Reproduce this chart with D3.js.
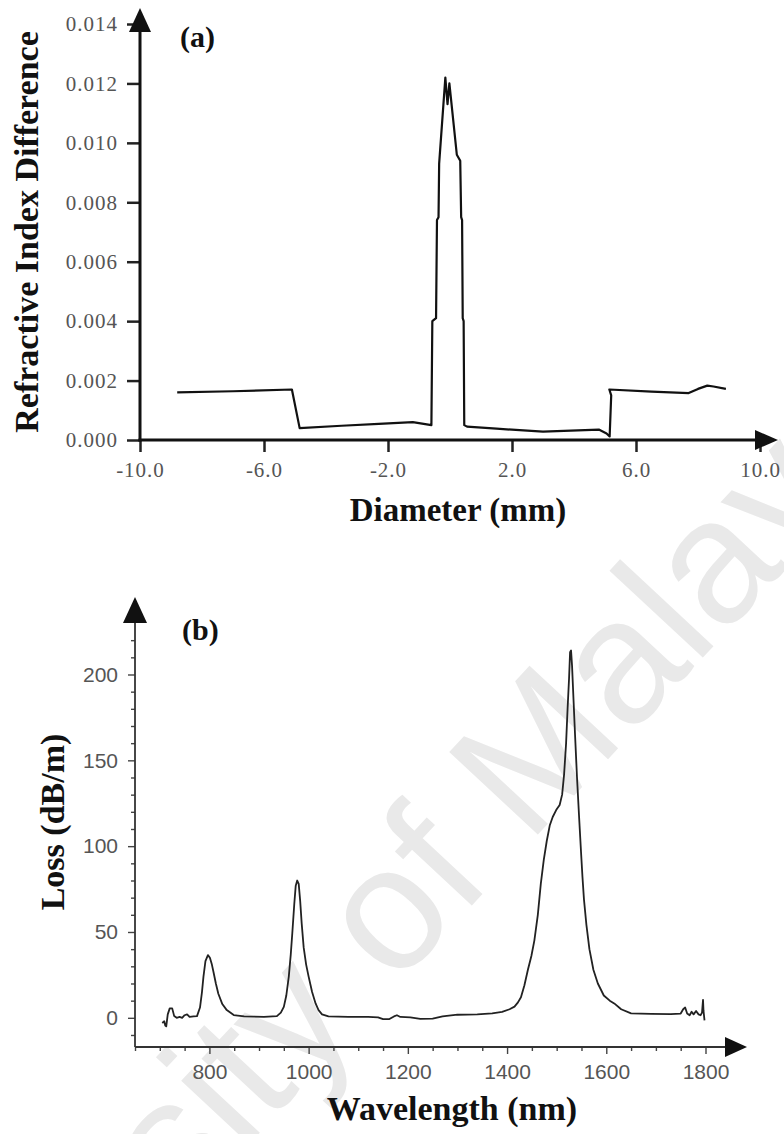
<!DOCTYPE html>
<html>
<head>
<meta charset="utf-8">
<script src="https://cdn.jsdelivr.net/npm/d3@7"></script>
<style>
  body { margin: 0; background: #fff; }
</style>
</head>
<body>
<script>
// panel (a) - refractive index profile
var diameterMm = [-8.8, -7.0, -5.1, -4.85, -3.5, -2.3, -1.2, -0.6, -0.57, -0.45, -0.42, -0.37, -0.35, -0.15, -0.08, -0.02,
  0.22, 0.33, 0.36, 0.39, 0.41, 0.44, 0.46, 0.55, 1.5, 3.0, 4.8, 5.05, 5.15, 5.2, 5.14, 6.5, 7.7, 8.0, 8.3, 8.5, 8.9];
var indexDiff = [0.00160, 0.00164, 0.00170, 0.00040, 0.00048, 0.00054, 0.00060, 0.00050, 0.00400, 0.00410, 0.00740, 0.00750, 0.00930, 0.01220, 0.01130, 0.01200,
  0.00960, 0.00940, 0.00750, 0.00740, 0.00410, 0.00400, 0.00050, 0.00045, 0.00038, 0.00028, 0.00035, 0.00022, 0.00012, 0.00150, 0.00170, 0.00163, 0.00158, 0.00172, 0.00183, 0.00180, 0.00172];
var aXTicks = [-10, -6, -2, 2, 6, 10];
var aYTicks = [0, 0.002, 0.004, 0.006, 0.008, 0.010, 0.012, 0.014];

// panel (b) - loss spectrum
var wavelengthNm = [705, 709, 711, 713, 716, 720, 725, 729, 734, 740, 745, 750, 755, 760, 768, 775, 781, 785, 788, 792, 797, 801, 805, 808, 813, 818, 826, 835, 849, 870,
  910, 936, 944, 950, 955, 960, 964, 967, 971, 974, 977, 980, 983, 986, 990, 995, 1000, 1007, 1014, 1020, 1027, 1040,
  1080, 1120, 1140, 1150, 1162, 1172, 1178, 1185, 1205, 1225, 1250, 1270, 1300, 1340, 1370, 1390,
  1405, 1415, 1422, 1428, 1435, 1442, 1449, 1455, 1462, 1468, 1474, 1480, 1486, 1492, 1499, 1506, 1511, 1515, 1519, 1522, 1525, 1527, 1529,
  1531, 1534, 1537, 1541, 1545, 1549, 1552, 1555, 1560, 1566, 1574, 1583, 1595, 1607, 1616, 1630, 1650, 1690, 1730,
  1750, 1755, 1759, 1763, 1768, 1772, 1776, 1781, 1786, 1790, 1793, 1795, 1796, 1798];
var lossDbm = [-3, -2, -4.5, -5, 2, 5.5, 5.5, 1, 0, 0.5, 0, 1.5, 2, 0.5, 0.8, 1, 6, 15, 24, 33, 36.5, 35, 31, 27, 20, 14, 8, 4.5, 1.6, 0.8,
  0.6, 1, 3, 6.4, 13, 24, 37, 49, 66, 77, 80, 78, 68, 55, 41, 31, 24, 15, 8.4, 4.5, 2, 0.8,
  0.6, 0.5, 0.3, -0.8, -0.8, 0.8, 1.5, 0.5, 0.3, -0.6, -0.5, 0.8, 1.8, 2, 2.6, 3.5,
  5, 6.5, 9, 12, 19, 28, 36, 45, 60, 78, 92, 103, 112, 117, 121, 124, 130, 142, 160, 180, 198, 213, 214,
  205, 185, 165, 140, 118, 97, 82, 69, 54, 40, 28, 20, 13, 10, 8.4, 5, 2.6, 2.3, 2.2,
  2.5, 5, 6, 2.5, 1.5, 3.5, 2, 4, 2, 1.5, 3, 10.5, 4, -1.5];
var bXTicks = [800, 1000, 1200, 1400, 1600, 1800];
var bYTicks = [0, 50, 100, 150, 200];

var w = 784, h = 1134;

var svg = d3.select("body")
  .append("svg")
  .attr("width", w)
  .attr("height", h);

// faint watermark behind everything
svg.append("text")
  .attr("transform", "translate(330,968) rotate(-47)")
  .attr("text-anchor", "middle")
  .attr("dominant-baseline", "central")
  .style("font-family", "'Liberation Sans', Arial, sans-serif")
  .style("font-size", "176px")
  .attr("fill", "#e9e9e9")
  .text("University of Malaya");

function arrowUp(g, x, tip, base, half, color) {
  g.append("path")
    .attr("d", "M" + x + "," + tip + "L" + (x - half) + "," + base + "L" + (x + half) + "," + base + "Z")
    .attr("fill", color);
}
function arrowRight(g, y, tip, base, half, color) {
  g.append("path")
    .attr("d", "M" + tip + "," + y + "L" + base + "," + (y - half) + "L" + base + "," + (y + half) + "Z")
    .attr("fill", color);
}

// ---------- panel (a) ----------
var xA = d3.scaleLinear().domain([-10, 10]).range([140, 760]);
var yA = d3.scaleLinear().domain([0, 0.014]).range([440, 24]);

var ga = svg.append("g");

var yAxisA = ga.append("g")
  .attr("transform", "translate(" + xA(-10) + ",0)")
  .call(d3.axisLeft(yA).tickValues(aYTicks).tickSize(13).tickPadding(9)
    .tickFormat(function(d) { return d.toFixed(3); }));
var xAxisA = ga.append("g")
  .attr("transform", "translate(0," + yA(0) + ")")
  .call(d3.axisBottom(xA).tickValues(aXTicks).tickSize(12).tickPadding(10)
    .tickFormat(function(d) { return d.toFixed(1); }));

[yAxisA, xAxisA].forEach(function(a) {
  a.select(".domain").remove();
  a.selectAll(".tick line").attr("stroke", "#222").attr("stroke-width", 2.5);
  a.selectAll(".tick text")
    .attr("fill", "#555")
    .style("font-family", "'Liberation Serif', 'Times New Roman', serif")
    .style("font-size", "21px")
    .style("letter-spacing", "1px");
});

// axis lines with arrows
ga.append("line")
  .attr("x1", xA(-10)).attr("x2", xA(-10))
  .attr("y1", yA(0) + 1.5).attr("y2", 30)
  .attr("stroke", "#111").attr("stroke-width", 3);
arrowUp(ga, xA(-10), 8, 32, 11, "#111");
ga.append("line")
  .attr("x1", xA(-10) - 1.5).attr("x2", 758)
  .attr("y1", yA(0)).attr("y2", yA(0))
  .attr("stroke", "#111").attr("stroke-width", 3);
arrowRight(ga, yA(0), 778, 755, 10, "#111");

var lineA = d3.line()
  .x(function(d, i) { return xA(diameterMm[i]); })
  .y(function(d) { return yA(d); });

ga.append("path")
  .datum(indexDiff)
  .attr("d", lineA)
  .attr("fill", "none")
  .attr("stroke", "#111")
  .attr("stroke-width", 2.2)
  .attr("stroke-linejoin", "round");

ga.append("text")
  .attr("x", 180).attr("y", 47)
  .style("font-family", "'Liberation Serif', 'Times New Roman', serif")
  .style("font-weight", "bold").style("font-size", "30px")
  .attr("fill", "#111")
  .text("(a)");

ga.append("text")
  .attr("x", 458).attr("y", 521)
  .attr("text-anchor", "middle")
  .style("font-family", "'Liberation Serif', 'Times New Roman', serif")
  .style("font-weight", "bold").style("font-size", "33px")
  .attr("fill", "#111")
  .text("Diameter (mm)");

ga.append("text")
  .attr("transform", "translate(38,232) rotate(-90)")
  .attr("text-anchor", "middle")
  .style("font-family", "'Liberation Serif', 'Times New Roman', serif")
  .style("font-weight", "bold").style("font-size", "34px")
  .attr("fill", "#111")
  .text("Refractive Index Difference");

// ---------- panel (b) ----------
var xB = d3.scaleLinear().domain([650, 1800]).range([135, 705.5]);
var yB = d3.scaleLinear().domain([-17, 230]).range([1047, 623]);

var gb = svg.append("g");

var minorY = d3.range(-10, 230, 10).filter(function(v) { return v % 50 !== 0; });
var minorX = d3.range(650, 1801, 50).filter(function(v) { return v % 200 !== 0; });

gb.append("g")
  .attr("transform", "translate(" + xB(650) + ",0)")
  .call(d3.axisLeft(yB).tickValues(minorY).tickSize(4).tickFormat(""));
gb.append("g")
  .attr("transform", "translate(0," + yB(-17) + ")")
  .call(d3.axisBottom(xB).tickValues(minorX).tickSize(4).tickFormat(""));

gb.append("g")
  .attr("transform", "translate(" + xB(650) + ",0)")
  .call(d3.axisLeft(yB).tickValues(bYTicks).tickSize(7).tickPadding(10)
    .tickFormat(function(d) { return String(d); }));
gb.append("g")
  .attr("transform", "translate(0," + yB(-17) + ")")
  .call(d3.axisBottom(xB).tickValues(bXTicks).tickSize(7).tickPadding(10)
    .tickFormat(function(d) { return String(d); }));

gb.selectAll(".domain").remove();
gb.selectAll(".tick line").attr("stroke", "#444").attr("stroke-width", 1.4);
gb.selectAll(".tick text")
  .attr("fill", "#555")
  .style("font-family", "'Liberation Sans', Arial, sans-serif")
  .style("font-size", "21px");

gb.append("line")
  .attr("x1", xB(650)).attr("x2", xB(650))
  .attr("y1", yB(-17)).attr("y2", 620)
  .attr("stroke", "#333").attr("stroke-width", 1.8);
arrowUp(gb, xB(650), 597, 623, 12, "#111");
gb.append("line")
  .attr("x1", xB(650)).attr("x2", 728)
  .attr("y1", yB(-17)).attr("y2", yB(-17))
  .attr("stroke", "#333").attr("stroke-width", 1.8);
arrowRight(gb, yB(-17), 747, 725, 10, "#111");

var lineB = d3.line()
  .x(function(d, i) { return xB(wavelengthNm[i]); })
  .y(function(d) { return yB(d); });

gb.append("path")
  .datum(lossDbm)
  .attr("d", lineB)
  .attr("fill", "none")
  .attr("stroke", "#222")
  .attr("stroke-width", 1.8)
  .attr("stroke-linejoin", "round");

gb.append("text")
  .attr("x", 182).attr("y", 640)
  .style("font-family", "'Liberation Serif', 'Times New Roman', serif")
  .style("font-weight", "bold").style("font-size", "30px")
  .attr("fill", "#111")
  .text("(b)");

gb.append("text")
  .attr("x", 452).attr("y", 1120)
  .attr("text-anchor", "middle")
  .style("font-family", "'Liberation Serif', 'Times New Roman', serif")
  .style("font-weight", "bold").style("font-size", "34px")
  .attr("fill", "#111")
  .text("Wavelength (nm)");

gb.append("text")
  .attr("transform", "translate(64,822) rotate(-90)")
  .attr("text-anchor", "middle")
  .style("font-family", "'Liberation Serif', 'Times New Roman', serif")
  .style("font-weight", "bold").style("font-size", "34px")
  .attr("fill", "#111")
  .text("Loss (dB/m)");
</script>
</body>
</html>
